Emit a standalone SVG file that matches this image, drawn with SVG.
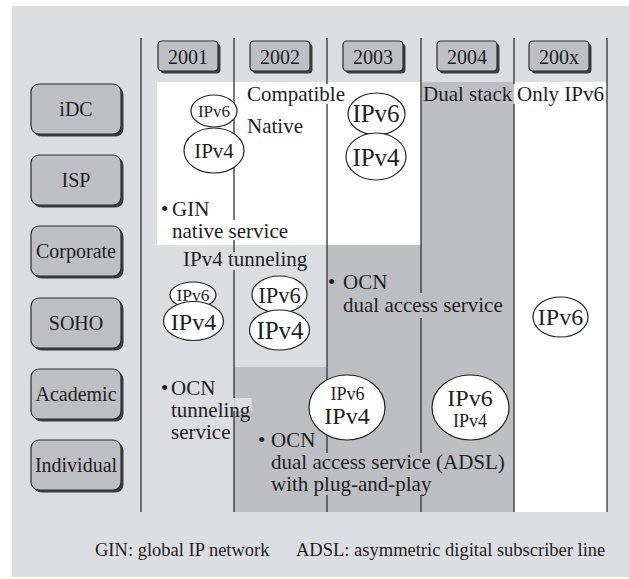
<svg xmlns="http://www.w3.org/2000/svg" width="629" height="579" viewBox="0 0 629 579">
<defs>
<style>
text{font-family:"Liberation Serif","Times New Roman",serif;fill:#1e1e1e}
.lbl{font-size:20px;text-anchor:middle}
.t{font-size:21px}
.foot{font-size:18.5px}
.box{fill:#bebfc3;stroke:#2e2e2e;stroke-width:1.2}
.sh{fill:#3c3c3c}
.ell{fill:#fff;stroke:#222;stroke-width:1.2}
.mid{text-anchor:middle}
.grid{fill:none;stroke:#333;stroke-width:1.3}
</style>
</defs>
<rect x="12" y="6" width="617" height="571" fill="#dcdde0"/>
<g id="regions">
<rect x="157" y="82" width="264" height="163" fill="#fff"/>
<rect x="421" y="82" width="93" height="430" fill="#bdbec2"/>
<rect x="514" y="82" width="93" height="430" fill="#fff"/>
<rect x="327" y="245" width="94" height="267" fill="#bdbec2"/>
<rect x="234" y="367" width="93" height="145" fill="#bdbec2"/>
<rect x="234.5" y="398" width="17" height="13" fill="#dcdde0"/>
</g>
<g id="connectors" class="grid">
<path d="M141 38V512"/>
<path d="M234 38V220M234 240V252M234 270V398M234 411V512"/>
<path d="M327 38V84M327 104V453M327 495V512"/>
<path d="M421 38V293M421 318V453M421 495V512"/>
<path d="M514 38V84M514 104V512"/>
<path d="M607 38V512"/>
</g>
<g id="years">
<g id="y2001"><rect class="sh" x="160.5" y="43.5" width="60" height="30" rx="4"/><rect class="box" x="158" y="41" width="60" height="30" rx="4"/><text class="lbl" x="188" y="64">2001</text></g>
<g id="y2002"><rect class="sh" x="252.5" y="43.5" width="60" height="30" rx="4"/><rect class="box" x="250" y="41" width="60" height="30" rx="4"/><text class="lbl" x="280" y="64">2002</text></g>
<g id="y2003"><rect class="sh" x="345.5" y="43.5" width="60" height="30" rx="4"/><rect class="box" x="343" y="41" width="60" height="30" rx="4"/><text class="lbl" x="373" y="64">2003</text></g>
<g id="y2004"><rect class="sh" x="439.5" y="43.5" width="60" height="30" rx="4"/><rect class="box" x="437" y="41" width="60" height="30" rx="4"/><text class="lbl" x="467" y="64">2004</text></g>
<g id="y200x"><rect class="sh" x="531.5" y="43.5" width="60" height="30" rx="4"/><rect class="box" x="529" y="41" width="60" height="30" rx="4"/><text class="lbl" x="559" y="64">200x</text></g>
</g>
<g id="rows">
<g id="iDC"><rect class="sh" x="33.5" y="86.5" width="90" height="50" rx="8"/><rect class="box" x="31" y="84" width="90" height="50" rx="8"/><text class="lbl" x="76" y="116">iDC</text></g>
<g id="ISP"><rect class="sh" x="33.5" y="157.5" width="90" height="50" rx="8"/><rect class="box" x="31" y="155" width="90" height="50" rx="8"/><text class="lbl" x="76" y="187">ISP</text></g>
<g id="Corporate"><rect class="sh" x="33.5" y="228.5" width="90" height="50" rx="8"/><rect class="box" x="31" y="226" width="90" height="50" rx="8"/><text class="lbl" x="76" y="258">Corporate</text></g>
<g id="SOHO"><rect class="sh" x="33.5" y="300.5" width="90" height="50" rx="8"/><rect class="box" x="31" y="298" width="90" height="50" rx="8"/><text class="lbl" x="76" y="330">SOHO</text></g>
<g id="Academic"><rect class="sh" x="33.5" y="371.5" width="90" height="50" rx="8"/><rect class="box" x="31" y="369" width="90" height="50" rx="8"/><text class="lbl" x="76" y="401">Academic</text></g>
<g id="Individual"><rect class="sh" x="33.5" y="442.5" width="90" height="50" rx="8"/><rect class="box" x="31" y="440" width="90" height="50" rx="8"/><text class="lbl" x="76" y="472">Individual</text></g>
</g>
<g id="stacks">
<g id="s2001top">
<ellipse class="ell" cx="214" cy="111" rx="23" ry="16"/><text class="mid" x="214" y="117" font-size="17">IPv6</text>
<ellipse class="ell" cx="214" cy="150.5" rx="30" ry="22.5"/><text class="mid" x="214" y="157.5" font-size="21">IPv4</text>
</g>
<g id="s2003top">
<ellipse class="ell" cx="376.5" cy="114" rx="28.5" ry="21"/><text class="mid" x="376" y="122" font-size="25">IPv6</text>
<ellipse class="ell" cx="376" cy="156.5" rx="30" ry="23.5"/><text class="mid" x="376" y="165.5" font-size="25">IPv4</text>
</g>
<g id="s2001mid">
<ellipse class="ell" cx="193" cy="295" rx="23" ry="13"/><text class="mid" x="193" y="300.5" font-size="17.5">IPv6</text>
<ellipse class="ell" cx="193.5" cy="321" rx="30" ry="19.5"/><text class="mid" x="193.5" y="330" font-size="24">IPv4</text>
</g>
<g id="s2002mid">
<ellipse class="ell" cx="279.5" cy="294.5" rx="27.5" ry="18.5"/><text class="mid" x="279.5" y="302.5" font-size="22.5">IPv6</text>
<ellipse class="ell" cx="279.5" cy="330" rx="30" ry="20"/><text class="mid" x="280" y="339" font-size="25">IPv4</text>
</g>
<g id="s200x">
<ellipse class="ell" cx="560.5" cy="317" rx="27.5" ry="20"/><text class="mid" x="560.5" y="325" font-size="24">IPv6</text>
</g>
<g id="s2003low">
<ellipse class="ell" cx="347" cy="407.5" rx="38" ry="32.5"/>
<text class="mid" x="347.5" y="400" font-size="18">IPv6</text>
<text class="mid" x="347" y="424" font-size="24">IPv4</text>
</g>
<g id="s2004low">
<ellipse class="ell" cx="470.5" cy="407.5" rx="38.5" ry="32.5"/>
<text class="mid" x="470" y="406" font-size="24">IPv6</text>
<text class="mid" x="470" y="427" font-size="18">IPv4</text>
</g>
</g>
<g id="notes" class="t">
<text x="247" y="101">Compatible</text>
<text x="247" y="133">Native</text>
<text x="423" y="101">Dual stack</text>
<text x="517" y="101">Only IPv6</text>
<text y="216"><tspan x="161">•</tspan><tspan x="172">GIN</tspan></text>
<text x="172" y="238">native service</text>
<text x="183" y="266">IPv4 tunneling</text>
<text y="289"><tspan x="328">•</tspan><tspan x="343">OCN</tspan></text>
<text x="343" y="312">dual access service</text>
<text y="395"><tspan x="161">•</tspan><tspan x="171">OCN</tspan></text>
<text x="171" y="417">tunneling</text>
<text x="171" y="439">service</text>
<text y="447"><tspan x="258">•</tspan><tspan x="271">OCN</tspan></text>
<text x="271" y="469">dual access service (ADSL)</text>
<text x="271" y="491">with plug-and-play</text>
</g>
<g id="footer" class="foot">
<text x="95" y="556">GIN: global IP network</text>
<text x="296" y="556">ADSL: asymmetric digital subscriber line</text>
</g>
</svg>
